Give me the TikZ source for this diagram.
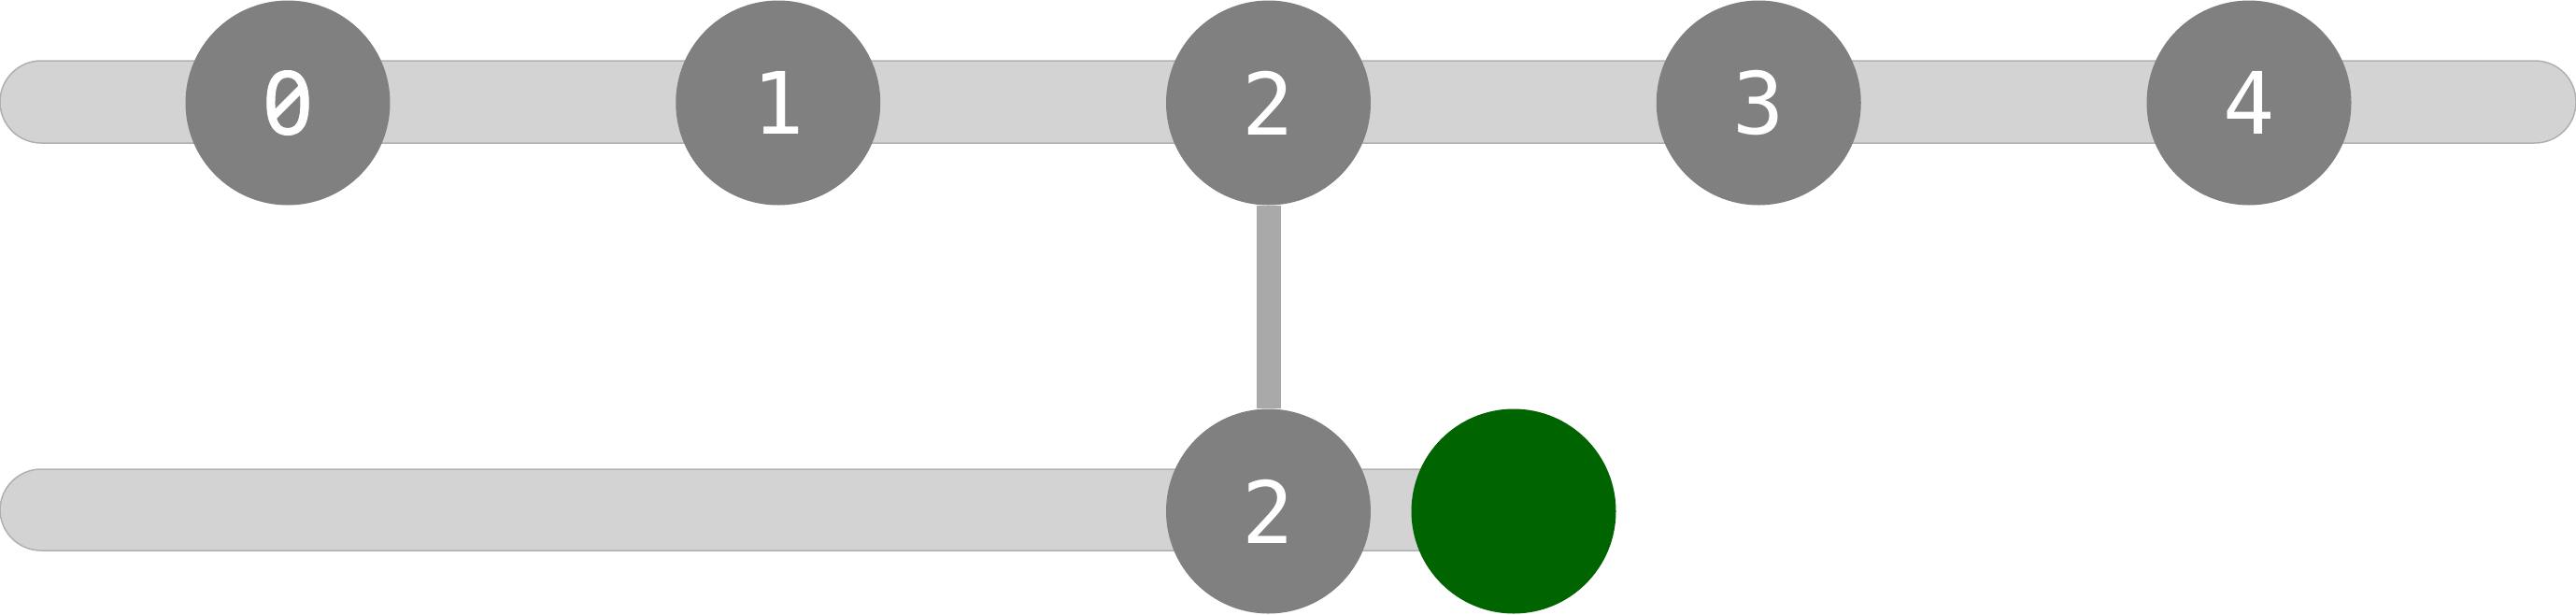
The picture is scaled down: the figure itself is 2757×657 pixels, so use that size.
\documentclass[tikz,border=0pt]{standalone}
\usepackage{fontspec}
\setmonofont{DejaVu Sans Mono}
\newfontfamily\zerofont{Noto Sans}[Numbers={Monospaced,SlashedZero},FakeBold=1]
\definecolor{barfill}{HTML}{D3D3D3}
\definecolor{barline}{HTML}{B0B0B0}
\definecolor{linkgray}{HTML}{A9A9A9}
\definecolor{commitgray}{HTML}{808080}
\definecolor{headgreen}{HTML}{006400}
\tikzset{
  lane/.style={fill=barfill,draw=barline,line width=1.5pt,rounded corners=44pt},
  commit/.style={circle,fill=commitgray,inner sep=0pt,minimum size=219pt,
    text=white,font=\ttfamily\fontsize{92}{92}\selectfont},
  head/.style={circle,fill=headgreen,inner sep=0pt,minimum size=219pt},
  link/.style={draw=linkgray,line width=26pt}
}
\begin{document}
\begin{tikzpicture}[x=1pt,y=-1pt]
      \useasboundingbox (0,0) rectangle (2757,657);

      % lanes
      \draw[lane] (0,65) rectangle (2757,153);
      \draw[lane] (0,502) rectangle (1620,589);

      % commits
      \foreach \i/\lbl in {0/{\zerofont\fontsize{94}{94}\selectfont 0},1/1,2/2,3/3,4/4}
        \node[commit] (c\i) at (308+524.75*\i,110) {\lbl};
      \node[commit] (d2) at (1357.5,547) {2};
      \node[head] (h) at (1620,547) {};

      \draw[link] (c2.south) -- (d2.north);
    \end{tikzpicture}
\end{document}
